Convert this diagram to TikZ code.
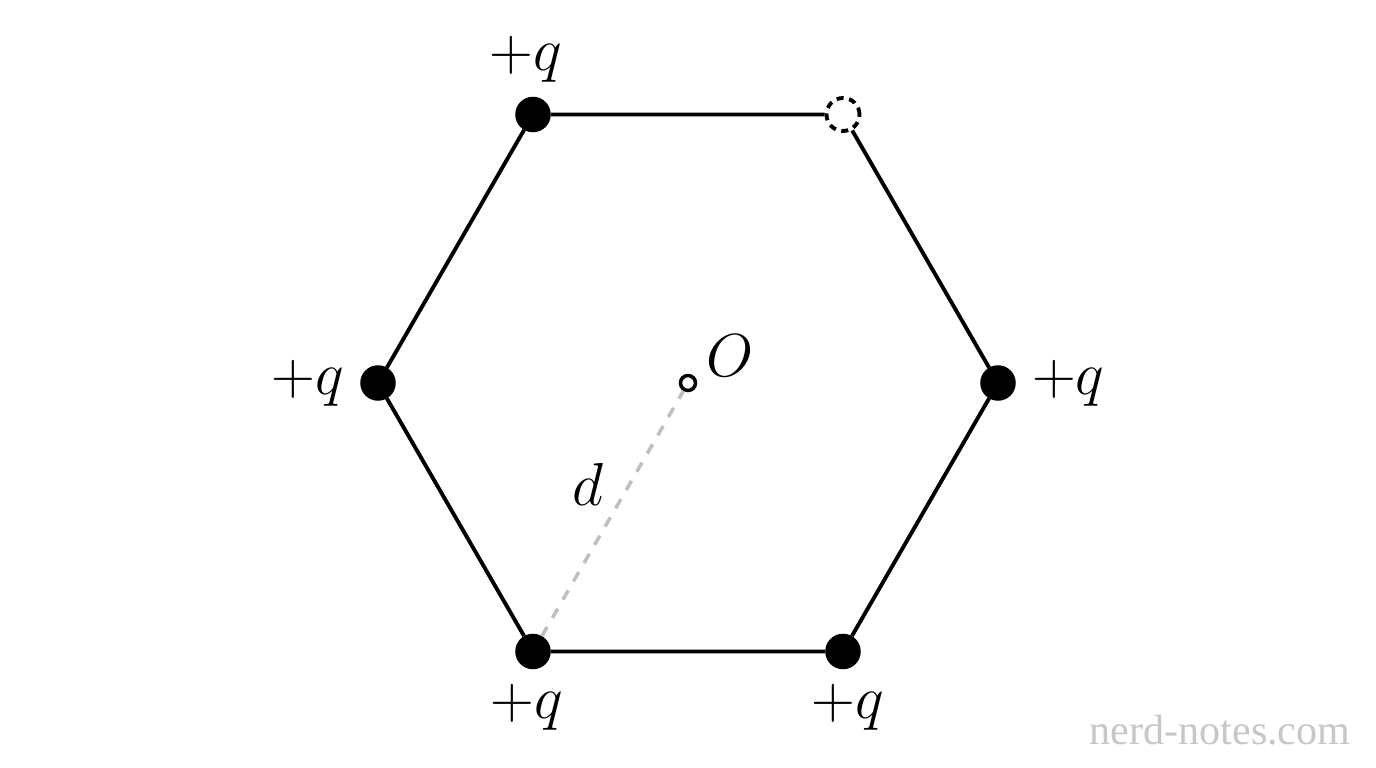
\documentclass[tikz,border=0pt]{standalone}
\usepackage{fontspec}
\usepackage{tikz}
\usetikzlibrary{positioning}
\newfontfamily\wmfont{Liberation Serif}
\tikzset{minimum size=0pt, node distance=0.04cm, font=\fontsize{16}{16}\selectfont}
\tikzstyle{charge} = [draw, fill, circle, minimum size=0.32cm, inner sep=0pt, line width=1pt]
\tikzstyle{removed} = [draw, circle, dash pattern=on 2pt off 1.6pt, minimum size=0.33cm, inner sep=0pt, line width=1.1pt]
\tikzstyle{origin} = [draw, circle, minimum size=0.15cm, inner sep=0pt, line width=1pt]
\tikzstyle{side} = [line width=1.1pt]
\tikzstyle{radius} = [dashed, line width=1pt, black!25]
\begin{document}
\begin{tikzpicture}
	\useasboundingbox (-6.88,-3.85) rectangle (6.88,3.83);
	% vertices of the hexagon
	\node [charge] (r) at (3.1,0) {};
	\node [removed] (tr) at (1.55,2.685) {};
	\node [charge] (tl) at (-1.55,2.685) {};
	\node [charge] (l) at (-3.1,0) {};
	\node [charge] (bl) at (-1.55,-2.685) {};
	\node [charge] (br) at (1.55,-2.685) {};
	\node [origin] (o) at (0,0) {};

	% labels
	\node [above=0.02cm of tl, xshift=-0.07cm] (q-tl) {$+q$};
	\node [left=of l] (q-l) {$+q$};
	\node [right=of r] (q-r) {$+q$};
	\node [below=0.03cm of bl, xshift=-0.06cm] (q-bl) {$+q$};
	\node [below=0.03cm of br, xshift=0.05cm] (q-br) {$+q$};
	\node (o-label) at (0.42,0.27) {$O$};
	\node (d-label) at (-1.0,-1.01) {$d$};

	\draw [side] (tl) -- (tr) -- (r) -- (br) -- (bl) -- (l) -- (tl);
	\draw [radius] (bl) -- (o);

	\node [text=black!22, font=\wmfont\fontsize{12}{12}\selectfont] (mark) at (5.32,-3.47) {nerd-notes.com};
\end{tikzpicture}
\end{document}
